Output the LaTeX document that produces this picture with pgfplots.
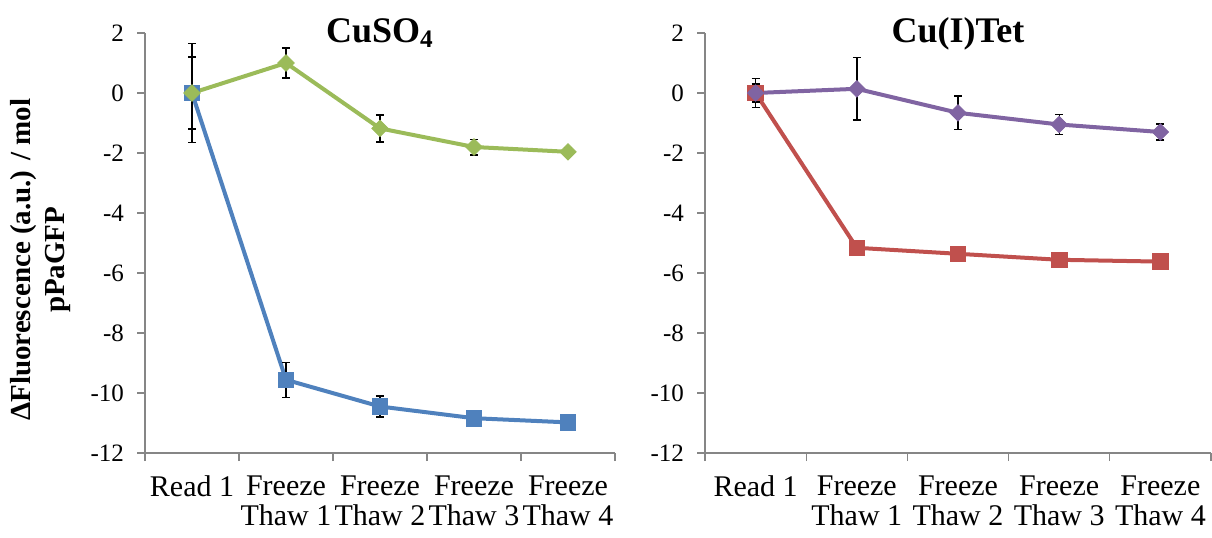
\documentclass[border=0pt]{standalone}
\usepackage{pgfplots}
\pgfplotsset{compat=1.18}
\usepackage{fontspec}
\setmainfont{Liberation Serif}

\definecolor{xlblue}{HTML}{4F81BD}
\definecolor{xlred}{HTML}{C0504D}
\definecolor{xlgreen}{HTML}{9BBB59}
\definecolor{xlpurple}{HTML}{8064A2}
\definecolor{axgray}{HTML}{868686}

% x positions 0..4 = Read 1, Freeze Thaw 1..4
\pgfplotstableread{
x   y      e
0   0      1.65
1   -9.56  0.58
2   -10.45 0.35
3   -10.84 0.10
4   -10.98 0.08
}\cusoblue
\pgfplotstableread{
x   y      e
0   0      1.20
1   1.00   0.50
2   -1.18  0.45
3   -1.80  0.26
4   -1.96  0.15
}\cusogreen
\pgfplotstableread{
x   y      e
0   0      0.30
1   -5.16  0.08
2   -5.36  0.08
3   -5.56  0.08
4   -5.62  0.08
}\tetred
\pgfplotstableread{
x   y      e
0   0      0.48
1   0.14   1.04
2   -0.66  0.56
3   -1.05  0.33
4   -1.30  0.27
}\tetpurple

\pgfplotsset{
  panel/.style={
    scale only axis,
    height=210pt,
    anchor=south west,
    xmin=-0.5, xmax=4.5, ymin=-12, ymax=2,
    axis x line*=bottom, axis y line*=left,
    axis line style={axgray, line width=0.6pt},
    tick style={axgray, line width=0.6pt},
    tick align=outside,
    major tick length=4pt,
    ytick={-12,-10,...,2},
    yticklabels={-12,-10,-8,-6,-4,-2,0,2},
    xtick={-0.5,0.5,1.5,2.5,3.5},
    extra x ticks={4.5}, extra x tick labels={},
    xticklabels={Read 1,Freeze\\Thaw 1,Freeze\\Thaw 2,Freeze\\Thaw 3,Freeze\\Thaw 4},
    yticklabel style={font=\fontsize{12.5}{14}\selectfont, xshift=-3pt},
    xticklabel style={font=\fontsize{15}{15}\selectfont, align=center, anchor=north, yshift=-4pt},
    title style={font=\fontsize{18}{20}\bfseries, at={(0.5,1)}, anchor=base, yshift=-10.5pt},
    clip=false,
    error bars/y dir=both, error bars/y explicit,
    error bars/error bar style={black, line width=0.7pt},
    error bars/error mark options={black, line width=0.7pt, mark size=2pt, rotate=90},
  },
  sq/.style={color=#1, line width=2pt, mark=square*, mark size=3.9pt, mark options={solid, fill=#1, draw=#1, line width=0.4pt}},
  dm/.style={color=#1, line width=2pt, mark=square*, mark size=2.9pt, mark options={solid, rotate=45, fill=#1, draw=#1, line width=0.4pt}},
}

\begin{document}
\begin{tikzpicture}[x=1pt,y=1pt]
\begin{axis}[panel, at={(72.5pt,42pt)}, width=235pt,
  xticklabel style={xshift=23.5pt},
  title={CuSO\textsubscript{4}},
  ylabel={ΔFluorescence (a.u.) / mol\\pPaGFP},
  ylabel style={font=\fontsize{14.5}{17}\bfseries, align=center, at={(axis description cs:-0.222,0.46)}, anchor=center, rotate=0},
]
\addplot+[sq=xlblue] table[x=x, y=y, y error=e] {\cusoblue};
\addplot+[dm=xlgreen] table[x=x, y=y, y error=e] {\cusogreen};
\end{axis}
\begin{axis}[panel, at={(352.5pt,42pt)}, width=253pt,
  xticklabel style={xshift=25.3pt},
  title={Cu(I)Tet},
]
\addplot+[sq=xlred] table[x=x, y=y, y error=e] {\tetred};
\addplot+[dm=xlpurple] table[x=x, y=y, y error=e] {\tetpurple};
\end{axis}
\pgfresetboundingbox
\path[use as bounding box] (0,0) rectangle (606,268.5);
\end{tikzpicture}
\end{document}
